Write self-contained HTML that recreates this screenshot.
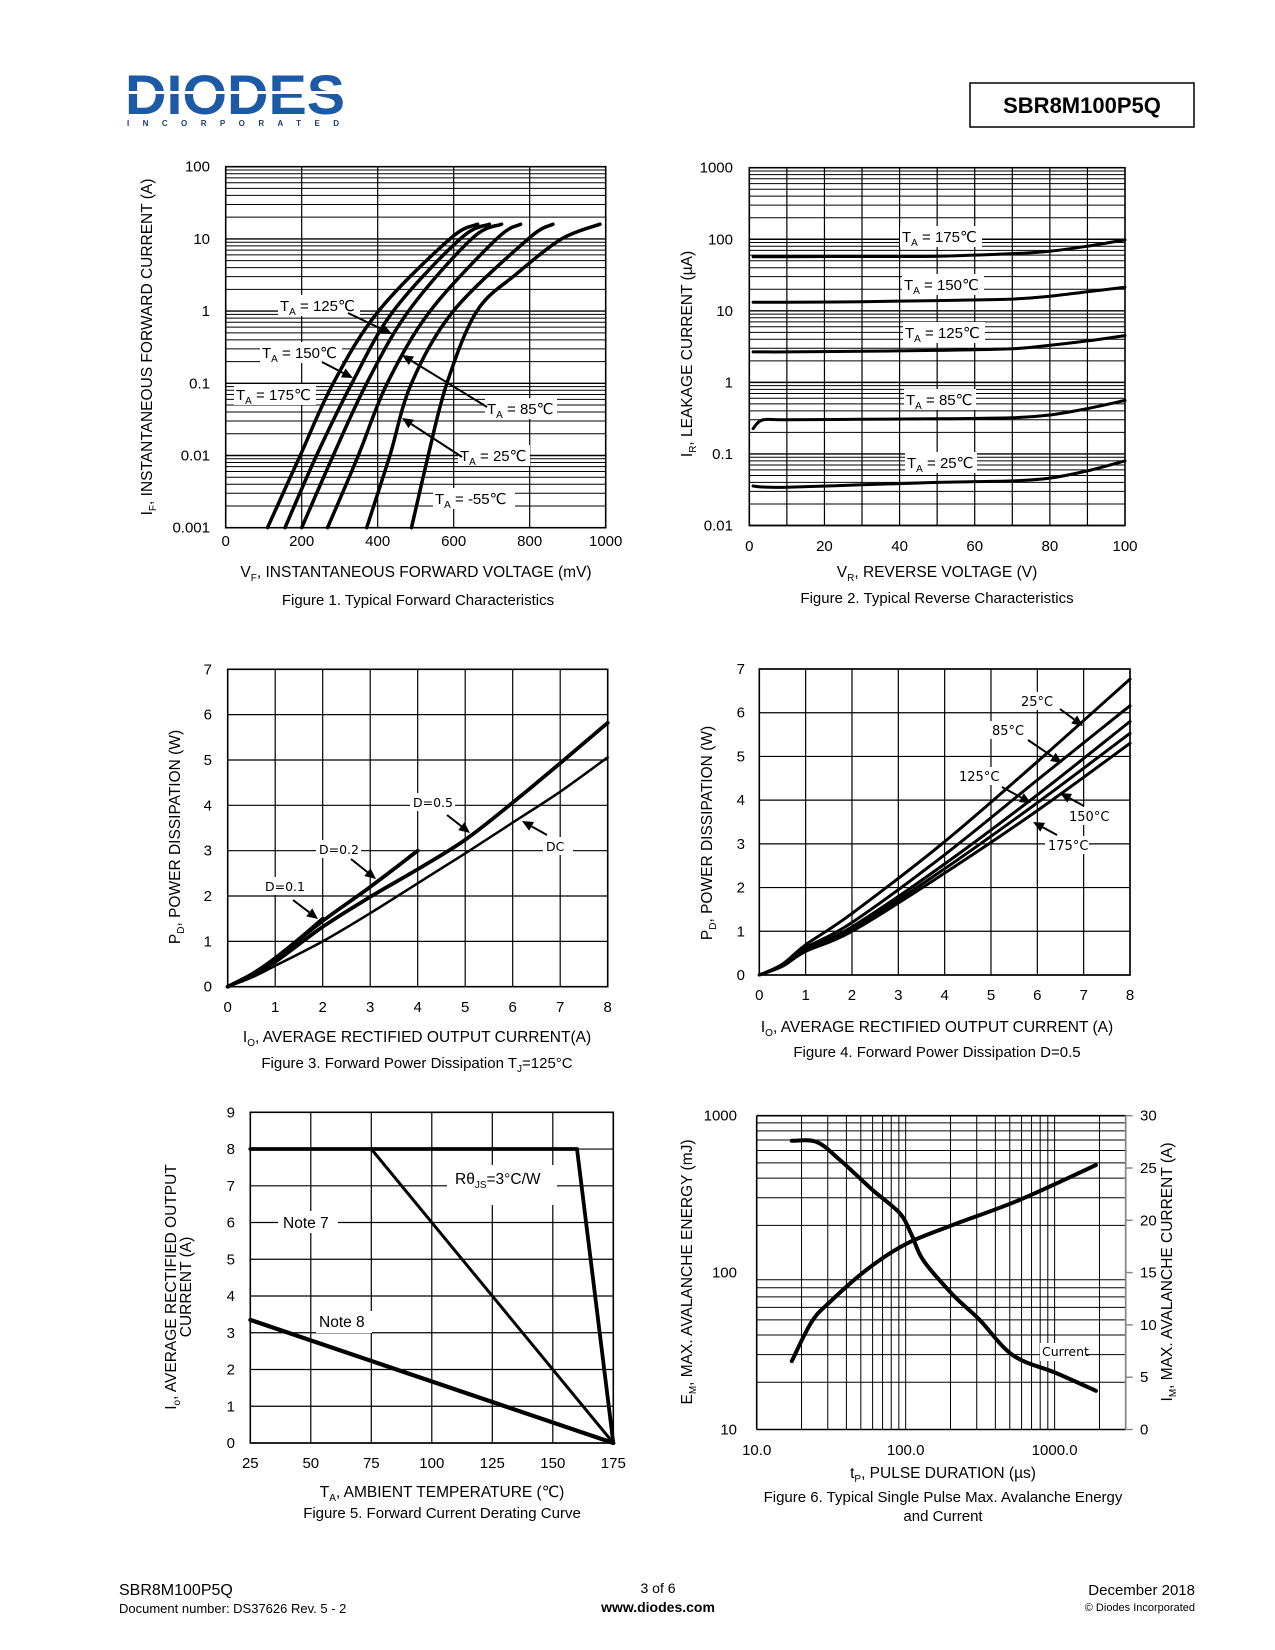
<!DOCTYPE html>
<html><head><meta charset="utf-8"><title>SBR8M100P5Q page 3</title>
<style>
html,body{margin:0;padding:0;background:#fff;}
svg{display:block;font-family:"Liberation Sans","DejaVu Sans",sans-serif;}
</style></head>
<body>
<svg id="page" xmlns="http://www.w3.org/2000/svg" width="1275" height="1650" viewBox="0 0 1275 1650">
<rect x="0" y="0" width="1275" height="1650" fill="#fff"/>
<g>
  <text x="125" y="114" font-size="56" font-weight="bold" fill="#1d5aa6" textLength="220" lengthAdjust="spacingAndGlyphs" font-family="Liberation Sans, sans-serif">DIODES</text>
  <rect x="125" y="91" width="222" height="3" fill="#fff"/>
  <text x="127" y="126" font-size="8" font-weight="bold" fill="#1d3f6e" textLength="212" lengthAdjust="spacing">INCORPORATED</text>
</g>
<rect x="970" y="83" width="224" height="44" fill="none" stroke="#000" stroke-width="1.5"/>
<text x="1082" y="113" font-size="22" font-weight="bold" text-anchor="middle">SBR8M100P5Q</text>
<text x="119" y="1595" font-size="16">SBR8M100P5Q</text>
<text x="119" y="1613" font-size="13">Document number: DS37626  Rev. 5 - 2</text>
<text x="658" y="1593" font-size="14" text-anchor="middle">3 of 6</text>
<text x="658" y="1612" font-size="14" font-weight="bold" text-anchor="middle">www.diodes.com</text>
<text x="1195" y="1595" font-size="15" text-anchor="end">December 2018</text>
<text x="1195" y="1611" font-size="11" text-anchor="end">© Diodes Incorporated</text>
</svg>
<script>
// ---------- Figure 1 data ----------
const fig1V175 = [110,196,283,402,590,663];
const fig1I175 = [0.001,0.01,0.1,1,10,16];
const fig1V150 = [156,239,332,441,617,694];
const fig1I150 = [0.001,0.01,0.1,1,10,16];
const fig1V125 = [200,283,371,481,647,726];
const fig1I125 = [0.001,0.01,0.1,1,10,16];
const fig1V85 = [268,349,425,538,713,776];
const fig1I85 = [0.001,0.01,0.1,1,10,16];
const fig1V25 = [371,432,489,599,796,861];
const fig1I25 = [0.001,0.01,0.1,1,10,16];
const fig1Vm55 = [489,533,582,661,766,884,985];
const fig1Im55 = [0.001,0.01,0.1,1,3.3,10,16];
const fig1XTicks = [0,200,400,600,800,1000];
const fig1YTicks = [0.001,0.01,0.1,1,10,100];
const fig1YTickLabels = ['0.001','0.01','0.1','1','10','100'];
// ---------- Figure 2 data ----------
const fig2Vr = [1,3.5,10,30,50,70,80,90,100];
const fig2I175 = [57,57,57,57.5,58,63,68,80,98];
const fig2I150 = [13.2,13.2,13.2,13.4,13.9,14.6,16,18.5,21.3];
const fig2I125 = [2.67,2.67,2.67,2.72,2.8,2.95,3.3,3.8,4.5];
const fig2I85 = [0.226,0.298,0.30,0.305,0.31,0.32,0.35,0.43,0.56];
const fig2I25 = [0.0357,0.0345,0.0343,0.037,0.040,0.042,0.046,0.058,0.080];
const fig2XTicks = [0,20,40,60,80,100];
const fig2YTicks = [0.01,0.1,1,10,100,1000];
const fig2YTickLabels = ['0.01','0.1','1','10','100','1000'];
// ---------- Figure 3 data ----------
const fig3X = [0,0.5,1,2,3,4,5,6,7,8];
const fig3DC = [0,0.2,0.46,1.0,1.62,2.28,2.94,3.62,4.3,5.06];
const fig3D05 = [0,0.25,0.55,1.32,1.98,2.59,3.24,4.06,4.93,5.82];
const fig3XD02 = [0,0.5,1,2,3,4];
const fig3D02 = [0,0.27,0.62,1.45,2.2,3.0];
const fig3XD01 = [0,0.5,1,1.5,2];
const fig3D01 = [0,0.27,0.63,1.05,1.5];
const fig3XTicks = [0,1,2,3,4,5,6,7,8];
const fig3YTicks = [0,1,2,3,4,5,6,7];
// ---------- Figure 4 data ----------
const fig4X = [0,0.5,1,2,4,6,8];
const fig4P25 = [0,0.25,0.69,1.41,3.05,4.88,6.77];
const fig4P85 = [0,0.23,0.62,1.2,2.75,4.46,6.16];
const fig4P125 = [0,0.22,0.58,1.1,2.54,4.12,5.80];
const fig4P150 = [0,0.21,0.56,1.05,2.43,3.94,5.53];
const fig4P175 = [0,0.2,0.54,1.0,2.33,3.76,5.30];
const fig4XTicks = [0,1,2,3,4,5,6,7,8];
const fig4YTicks = [0,1,2,3,4,5,6,7];
// ---------- Figure 5 data ----------
const fig5TRth = [25,160,175];
const fig5IRth = [8,8,0];
const fig5TNote7 = [75,175];
const fig5INote7 = [8,0];
const fig5TNote8 = [25,175];
const fig5INote8 = [3.35,0];
const fig5XTicks = [25,50,75,100,125,150,175];
const fig5YTicks = [0,1,2,3,4,5,6,7,8,9];
// ---------- Figure 6 data ----------
const fig6TEnergy = [17.2,23.4,31,54.5,100,207,580,1892];
const fig6Energy = [27.3,48.6,65,104,152,201,290,484];
const fig6TCurrent = [17.2,25.2,36,60,91,109,131,207,313,524,1021,1892];
const fig6Current = [27.6,27.5,25.8,22.9,20.7,18.7,16.2,12.9,10.5,7.1,5.4,3.7];
const fig6XTicks = [10,100,1000];
const fig6XTickLabels = ['10.0','100.0','1000.0'];
const fig6YTicks = [10,100,1000];
const fig6RTicks = [0,5,10,15,20,25,30];

const NS = 'http://www.w3.org/2000/svg';
const svg = document.getElementById('page');
function el(tag, attrs, parent){
  const e = document.createElementNS(NS, tag);
  for (const k in attrs) e.setAttribute(k, attrs[k]);
  (parent || svg).appendChild(e);
  return e;
}
function grp(name){
  const g = el('g', {});
  
  
  return g;
}
function txt(parent, x, y, html, size, anchor, name, extra){
  const t = el('text', Object.assign({x:x, y:y, 'font-size':size, 'text-anchor':anchor||'middle', fill:'#000'}, extra||{}), parent);
  t.innerHTML = html;
  
  
  return t;
}
function ln(parent, x1, y1, x2, y2, w, name, color){
  const l = el('line', {x1:x1, y1:y1, x2:x2, y2:y2, stroke:color||'#000', 'stroke-width':w}, parent);
  
  
  return l;
}
function linScale(d0, d1, p0, p1){ return v => p0 + (v - d0) / (d1 - d0) * (p1 - p0); }
function logScale(d0, d1, p0, p1){ const a = Math.log10(d0), b = Math.log10(d1); return v => p0 + (Math.log10(v) - a) / (b - a) * (p1 - p0); }
function smoothPath(pts){
  let d = 'M' + pts[0][0].toFixed(1) + ',' + pts[0][1].toFixed(1);
  for (let i = 0; i < pts.length - 1; i++){
    const p0 = pts[i-1] || pts[i], p1 = pts[i], p2 = pts[i+1], p3 = pts[i+2] || pts[i+1];
    const c1x = p1[0] + (p2[0]-p0[0])/6, c1y = p1[1] + (p2[1]-p0[1])/6;
    const c2x = p2[0] - (p3[0]-p1[0])/6, c2y = p2[1] - (p3[1]-p1[1])/6;
    d += ' C' + c1x.toFixed(1) + ',' + c1y.toFixed(1) + ' ' + c2x.toFixed(1) + ',' + c2y.toFixed(1) + ' ' + p2[0].toFixed(1) + ',' + p2[1].toFixed(1);
  }
  return d;
}
function curve(parent, xs, ys, sx, sy, w, name, straight){
  const pts = xs.map((x, i) => [sx(x), sy(ys[i])]);
  const d = straight ? 'M' + pts.map(p => p[0].toFixed(1) + ',' + p[1].toFixed(1)).join(' L') : smoothPath(pts);
  const p = el('path', {d:d, fill:'none', stroke:'#000', 'stroke-width':w, 'stroke-linecap':'round', 'stroke-linejoin':'round'}, parent);
  
  
  return p;
}
function arrow(parent, x1, y1, x2, y2, name){
  const g = el('g', {}, parent);
  
  
  const a = Math.atan2(y2-y1, x2-x1), L = 11, W = 5;
  const bx = x2 - L*Math.cos(a), by = y2 - L*Math.sin(a);
  ln(g, x1, y1, bx, by, 2, name + '-shaft');
  const poly = el('polygon', {points: x2+','+y2+' '+(bx+W*Math.sin(a))+','+(by-W*Math.cos(a))+' '+(bx-W*Math.sin(a))+','+(by+W*Math.cos(a)), fill:'#000'}, g);
  
  
}
function whiteBox(parent, x, y, w, h, name){
  const r = el('rect', {x:x, y:y, width:w, height:h, fill:'#fff'}, parent);
  
  
}
function frame(parent, L, T, R, B, name){
  const r = el('rect', {x:L, y:T, width:R-L, height:B-T, fill:'none', stroke:'#000', 'stroke-width':1.6}, parent);
  
  
}
function logMinors(d0, d1){
  const out = [];
  for (let dec = d0; dec < d1; dec *= 10) for (let m = 2; m <= 9; m++) out.push(dec*m);
  return out;
}
const TA = (t) => 'T<tspan font-size="10" dy="4">A</tspan><tspan dy="-4"> = ' + t + '℃</tspan>';

// ================= FIGURE 1 =================
(function(){
  const g = grp('figure-1-forward-characteristics');
  const L=225.7, R=605.7, T=166.7, B=527.7;
  const sx = linScale(0, 1000, L, R), sy = logScale(0.001, 100, B, T);
  logMinors(0.001, 100).forEach(v => ln(g, L, sy(v), R, sy(v), 1, 'fig1-minor-gridline'));
  fig1YTicks.forEach(v => ln(g, L, sy(v), R, sy(v), 1.4, 'fig1-major-gridline'));
  fig1XTicks.forEach(v => ln(g, sx(v), T, sx(v), B, 1.2, 'fig1-vertical-gridline'));
  frame(g, L, T, R, B, 'fig1-plot-frame');
  fig1YTicks.forEach((v, i) => txt(g, 210, sy(v) + 5, fig1YTickLabels[i], 15, 'end', 'fig1-y-tick-label'));
  fig1XTicks.forEach(v => txt(g, sx(v), 546, String(v), 15, 'middle', 'fig1-x-tick-label'));
  txt(g, 416, 577, 'V<tspan font-size="10" dy="4">F</tspan><tspan dy="-4">, INSTANTANEOUS FORWARD VOLTAGE (mV)</tspan>', 15.5, 'middle', 'fig1-x-axis-title');
  txt(g, 418, 605, 'Figure 1. Typical Forward Characteristics', 15, 'middle', 'fig1-caption');
  txt(g, 0, 0, 'I<tspan font-size="10" dy="4">F</tspan><tspan dy="-4">, INSTANTANEOUS FORWARD CURRENT (A)</tspan>', 15.5, 'middle', 'fig1-y-axis-title', {transform:'translate(152,347) rotate(-90)'});
  const labels = [[280,296,'125','fig1-label-125c'],[262,343,'150','fig1-label-150c'],[236,385,'175','fig1-label-175c'],[487,399,'85','fig1-label-85c'],[460,446,'25','fig1-label-25c'],[435,489,'-55','fig1-label-minus55c']];
  labels.forEach(l => { whiteBox(g, l[0]-2, l[1]-1, l[2].length > 2 ? 82 : 72, 21, l[3] + '-bg'); txt(g, l[0], l[1]+15, TA(l[2]), 15, 'start', l[3]); });
  curve(g, fig1V175, fig1I175, sx, sy, 3.5, 'fig1-curve-175c');
  curve(g, fig1V150, fig1I150, sx, sy, 3.5, 'fig1-curve-150c');
  curve(g, fig1V125, fig1I125, sx, sy, 3.5, 'fig1-curve-125c');
  curve(g, fig1V85, fig1I85, sx, sy, 3.5, 'fig1-curve-85c');
  curve(g, fig1V25, fig1I25, sx, sy, 3.5, 'fig1-curve-25c');
  curve(g, fig1Vm55, fig1Im55, sx, sy, 3.5, 'fig1-curve-minus55c');
  arrow(g, 348, 313, 392, 334, 'fig1-arrow-125c');
  arrow(g, 322, 362, 353, 378, 'fig1-arrow-150c');
  arrow(g, 487, 407, 402, 355, 'fig1-arrow-85c');
  arrow(g, 462, 457, 402, 418, 'fig1-arrow-25c');
})();

// ================= FIGURE 2 =================
(function(){
  const g = grp('figure-2-reverse-characteristics');
  const L=749.3, R=1125, T=167.7, B=525.5;
  const sx = linScale(0, 100, L, R), sy = logScale(0.01, 1000, B, T);
  logMinors(0.01, 1000).forEach(v => ln(g, L, sy(v), R, sy(v), 1, 'fig2-minor-gridline'));
  fig2YTicks.forEach(v => ln(g, L, sy(v), R, sy(v), 1.4, 'fig2-major-gridline'));
  for (let v = 10; v < 100; v += 10) ln(g, sx(v), T, sx(v), B, 1.2, 'fig2-vertical-gridline');
  frame(g, L, T, R, B, 'fig2-plot-frame');
  fig2YTicks.forEach((v, i) => txt(g, 733, sy(v) + 5, fig2YTickLabels[i], 15, 'end', 'fig2-y-tick-label'));
  fig2XTicks.forEach(v => txt(g, sx(v), 551, String(v), 15, 'middle', 'fig2-x-tick-label'));
  txt(g, 937, 577, 'V<tspan font-size="10" dy="4">R</tspan><tspan dy="-4">, REVERSE VOLTAGE (V)</tspan>', 15.5, 'middle', 'fig2-x-axis-title');
  txt(g, 937, 603, 'Figure 2. Typical Reverse Characteristics', 15, 'middle', 'fig2-caption');
  txt(g, 0, 0, 'I<tspan font-size="10" dy="4">R</tspan><tspan dy="-4">, LEAKAGE CURRENT (µA)</tspan>', 15.5, 'middle', 'fig2-y-axis-title', {transform:'translate(692,354) rotate(-90)'});
  const labels = [[902,227,'175','fig2-label-175c'],[904,275,'150','fig2-label-150c'],[905,323,'125','fig2-label-125c'],[906,390,'85','fig2-label-85c'],[907,453,'25','fig2-label-25c']];
  labels.forEach(l => { whiteBox(g, l[0]-2, l[1]-1, l[2].length > 2 ? 82 : 72, 21, l[3] + '-bg'); txt(g, l[0], l[1]+15, TA(l[2]), 15, 'start', l[3]); });
  curve(g, fig2Vr, fig2I175, sx, sy, 3, 'fig2-curve-175c');
  curve(g, fig2Vr, fig2I150, sx, sy, 3, 'fig2-curve-150c');
  curve(g, fig2Vr, fig2I125, sx, sy, 3, 'fig2-curve-125c');
  curve(g, fig2Vr, fig2I85, sx, sy, 3, 'fig2-curve-85c');
  curve(g, fig2Vr, fig2I25, sx, sy, 3, 'fig2-curve-25c');
})();

// ================= FIGURE 3 =================
(function(){
  const g = grp('figure-3-power-dissipation-tj125');
  const L=227.7, R=607.7, T=669.3, B=986.7;
  const sx = linScale(0, 8, L, R), sy = linScale(0, 7, B, T);
  fig3YTicks.forEach(v => ln(g, L, sy(v), R, sy(v), 1.2, 'fig3-horizontal-gridline'));
  fig3XTicks.forEach(v => ln(g, sx(v), T, sx(v), B, 1.2, 'fig3-vertical-gridline'));
  frame(g, L, T, R, B, 'fig3-plot-frame');
  fig3YTicks.forEach(v => txt(g, 212, sy(v) + 5, String(v), 15, 'end', 'fig3-y-tick-label'));
  fig3XTicks.forEach(v => txt(g, sx(v), 1012, String(v), 15, 'middle', 'fig3-x-tick-label'));
  txt(g, 417, 1042, 'I<tspan font-size="10" dy="4">O</tspan><tspan dy="-4">, AVERAGE RECTIFIED OUTPUT CURRENT(A)</tspan>', 15.5, 'middle', 'fig3-x-axis-title');
  txt(g, 417, 1068, 'Figure 3. Forward Power Dissipation T<tspan font-size="10" dy="4">J</tspan><tspan dy="-4">=125°C</tspan>', 15, 'middle', 'fig3-caption');
  txt(g, 0, 0, 'P<tspan font-size="10" dy="4">D</tspan><tspan dy="-4">, POWER DISSIPATION (W)</tspan>', 15.5, 'middle', 'fig3-y-axis-title', {transform:'translate(180,837) rotate(-90)'});
  const labels = [[265,878,'D=0.1','fig3-label-d01',45],[319,841,'D=0.2','fig3-label-d02',45],[413,794,'D=0.5','fig3-label-d05',45],[546,838,'DC','fig3-label-dc',30]];
  labels.forEach(l => { whiteBox(g, l[0]-3, l[1]-1, l[4], 18, l[3] + '-bg'); txt(g, l[0], l[1]+13, l[2], 12.5, 'start', l[3], {'font-family':'DejaVu Sans, sans-serif'}); });
  curve(g, fig3X, fig3DC, sx, sy, 2.5, 'fig3-curve-dc');
  curve(g, fig3X, fig3D05, sx, sy, 3.8, 'fig3-curve-d05');
  curve(g, fig3XD02, fig3D02, sx, sy, 3.8, 'fig3-curve-d02');
  curve(g, fig3XD01, fig3D01, sx, sy, 3.8, 'fig3-curve-d01');
  arrow(g, 293, 900, 318, 919, 'fig3-arrow-d01');
  arrow(g, 351, 859, 376, 879, 'fig3-arrow-d02');
  arrow(g, 447, 815, 470, 833, 'fig3-arrow-d05');
  arrow(g, 547, 835, 522, 821, 'fig3-arrow-dc');
})();

// ================= FIGURE 4 =================
(function(){
  const g = grp('figure-4-power-dissipation-d05');
  const L=759.3, R=1130, T=669, B=975;
  const sx = linScale(0, 8, L, R), sy = linScale(0, 7, B, T);
  fig4YTicks.forEach(v => ln(g, L, sy(v), R, sy(v), 1.2, 'fig4-horizontal-gridline'));
  fig4XTicks.forEach(v => ln(g, sx(v), T, sx(v), B, 1.2, 'fig4-vertical-gridline'));
  frame(g, L, T, R, B, 'fig4-plot-frame');
  fig4YTicks.forEach(v => txt(g, 745, sy(v) + 5, String(v), 15, 'end', 'fig4-y-tick-label'));
  fig4XTicks.forEach(v => txt(g, sx(v), 1000, String(v), 15, 'middle', 'fig4-x-tick-label'));
  txt(g, 937, 1032, 'I<tspan font-size="10" dy="4">O</tspan><tspan dy="-4">, AVERAGE RECTIFIED OUTPUT CURRENT (A)</tspan>', 15.5, 'middle', 'fig4-x-axis-title');
  txt(g, 937, 1057, 'Figure 4. Forward Power Dissipation D=0.5', 15, 'middle', 'fig4-caption');
  txt(g, 0, 0, 'P<tspan font-size="10" dy="4">D</tspan><tspan dy="-4">, POWER DISSIPATION (W)</tspan>', 15.5, 'middle', 'fig4-y-axis-title', {transform:'translate(712,833) rotate(-90)'});
  const labels = [[1021,693,'25°C','fig4-label-25c',36],[992,722,'85°C','fig4-label-85c',36],[959,768,'125°C','fig4-label-125c',44],[1069,808,'150°C','fig4-label-150c',44],[1048,837,'175°C','fig4-label-175c',44]];
  labels.forEach(l => { whiteBox(g, l[0]-3, l[1]-1, l[4], 18, l[3] + '-bg'); txt(g, l[0], l[1]+13, l[2], 13, 'start', l[3], {'font-family':'DejaVu Sans, sans-serif'}); });
  curve(g, fig4X, fig4P25, sx, sy, 3, 'fig4-curve-25c');
  curve(g, fig4X, fig4P85, sx, sy, 3, 'fig4-curve-85c');
  curve(g, fig4X, fig4P125, sx, sy, 3, 'fig4-curve-125c');
  curve(g, fig4X, fig4P150, sx, sy, 3, 'fig4-curve-150c');
  curve(g, fig4X, fig4P175, sx, sy, 3, 'fig4-curve-175c');
  arrow(g, 1060, 709, 1083, 726, 'fig4-arrow-25c');
  arrow(g, 1028, 740, 1062, 763, 'fig4-arrow-85c');
  arrow(g, 1002, 787, 1031, 803, 'fig4-arrow-125c');
  arrow(g, 1084, 806, 1060, 793, 'fig4-arrow-150c');
  arrow(g, 1057, 835, 1033, 822, 'fig4-arrow-175c');
})();

// ================= FIGURE 5 =================
(function(){
  const g = grp('figure-5-current-derating');
  const L=250.3, R=613.3, T=1112.3, B=1443;
  const sx = linScale(25, 175, L, R), sy = linScale(0, 9, B, T);
  fig5YTicks.forEach(v => ln(g, L, sy(v), R, sy(v), 1.2, 'fig5-horizontal-gridline'));
  fig5XTicks.forEach(v => ln(g, sx(v), T, sx(v), B, 1.2, 'fig5-vertical-gridline'));
  frame(g, L, T, R, B, 'fig5-plot-frame');
  fig5YTicks.forEach(v => txt(g, 235, sy(v) + 5, String(v), 15, 'end', 'fig5-y-tick-label'));
  fig5XTicks.forEach(v => txt(g, sx(v), 1468, String(v), 15, 'middle', 'fig5-x-tick-label'));
  txt(g, 442, 1497, 'T<tspan font-size="10" dy="4">A</tspan><tspan dy="-4">, AMBIENT TEMPERATURE (℃)</tspan>', 15.5, 'middle', 'fig5-x-axis-title');
  txt(g, 442, 1518, 'Figure 5. Forward Current Derating Curve', 15, 'middle', 'fig5-caption');
  txt(g, 0, 0, 'I<tspan font-size="10" dy="4">o</tspan><tspan dy="-4">, AVERAGE RECTIFIED OUTPUT</tspan>', 15.5, 'middle', 'fig5-y-axis-title-line1', {transform:'translate(176,1287) rotate(-90)'});
  txt(g, 0, 0, 'CURRENT (A)', 15.5, 'middle', 'fig5-y-axis-title-line2', {transform:'translate(191,1287) rotate(-90)'});
  whiteBox(g, 447, 1165, 110, 40, 'fig5-label-rth-bg');
  txt(g, 455, 1184, 'Rθ<tspan font-size="10" dy="4">JS</tspan><tspan dy="-4">=3°C/W</tspan>', 15.5, 'start', 'fig5-label-rth');
  whiteBox(g, 278, 1211, 60, 22, 'fig5-label-note7-bg');
  txt(g, 283, 1228, 'Note 7', 15.5, 'start', 'fig5-label-note7');
  whiteBox(g, 316, 1311, 56, 22, 'fig5-label-note8-bg');
  txt(g, 319, 1327, 'Note 8', 15.5, 'start', 'fig5-label-note8');
  curve(g, fig5TNote7, fig5INote7, sx, sy, 3, 'fig5-line-note7', true);
  curve(g, fig5TRth, fig5IRth, sx, sy, 3.8, 'fig5-line-rth-js', true);
  curve(g, fig5TNote8, fig5INote8, sx, sy, 4.2, 'fig5-line-note8', true);
})();

// ================= FIGURE 6 =================
(function(){
  const g = grp('figure-6-avalanche-energy-current');
  const L=756.7, R=1125.7, T=1115.7, B=1429.5;
  const sx = logScale(10, 3000, L, R) , sy = logScale(10, 1000, B, T), sr = linScale(0, 30, B, T);
  logMinors(10, 1000).forEach(v => ln(g, L, sy(v), R, sy(v), 1, 'fig6-horizontal-gridline'));
  logMinors(10, 1000).concat([100, 1000, 2000]).forEach(v => ln(g, sx(v), T, sx(v), B, 1, 'fig6-vertical-gridline'));
  ln(g, L, T, R, T, 1.6, 'fig6-top-border');
  ln(g, L, T, L, B, 1.6, 'fig6-left-axis');
  ln(g, L, B, R, B, 1.6, 'fig6-bottom-axis');
  ln(g, R, T, R, B, 1.8, 'fig6-right-axis', '#888');
  fig6RTicks.forEach(v => ln(g, R, sr(v), R + 7, sr(v), 1.5, 'fig6-right-tick', '#888'));
  fig6RTicks.forEach(v => txt(g, 1140, sr(v) + 5, String(v), 15, 'start', 'fig6-right-tick-label'));
  fig6YTicks.forEach(v => txt(g, 737, sy(v) + 5, String(v), 15, 'end', 'fig6-left-tick-label'));
  fig6XTicks.forEach((v, i) => txt(g, sx(v), 1455, fig6XTickLabels[i], 15, 'middle', 'fig6-x-tick-label'));
  txt(g, 943, 1478, 't<tspan font-size="10" dy="4">P</tspan><tspan dy="-4">, PULSE DURATION (µs)</tspan>', 15.5, 'middle', 'fig6-x-axis-title');
  txt(g, 943, 1502, 'Figure 6. Typical Single Pulse Max. Avalanche Energy', 15, 'middle', 'fig6-caption-line1');
  txt(g, 943, 1521, 'and Current', 15, 'middle', 'fig6-caption-line2');
  txt(g, 0, 0, 'E<tspan font-size="10" dy="4">M</tspan><tspan dy="-4">, MAX. AVALANCHE ENERGY (mJ)</tspan>', 15.5, 'middle', 'fig6-left-y-axis-title', {transform:'translate(692,1272) rotate(-90)'});
  txt(g, 0, 0, 'I<tspan font-size="10" dy="4">M</tspan><tspan dy="-4">, MAX. AVALANCHE CURRENT (A)</tspan>', 15.5, 'middle', 'fig6-right-y-axis-title', {transform:'translate(1172,1272) rotate(-90)'});
  whiteBox(g, 1040, 1343, 46, 18, 'fig6-label-current-bg');
  txt(g, 1042, 1356, 'Current', 12.5, 'start', 'fig6-label-current', {'font-family':'DejaVu Sans, sans-serif'});
  curve(g, fig6TEnergy, fig6Energy, sx, sy, 4, 'fig6-curve-energy');
  curve(g, fig6TCurrent, fig6Current, sx, sr, 4, 'fig6-curve-current');
})();
</script>
</body></html>
